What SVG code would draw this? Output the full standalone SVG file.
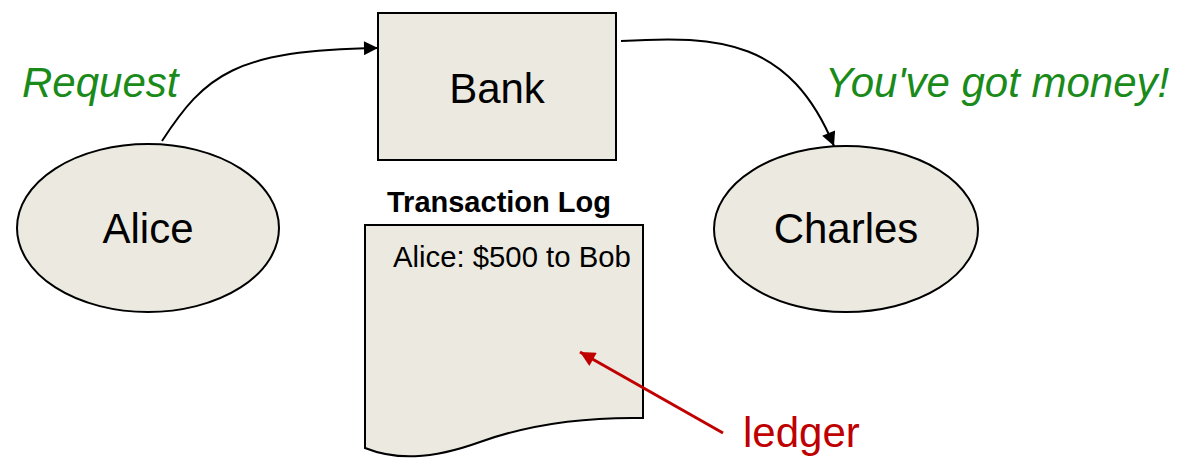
<svg xmlns="http://www.w3.org/2000/svg" width="1188" height="459" viewBox="0 0 1188 459">
<style>
.shape{fill:#eceae0;stroke:#000;stroke-width:2}
.lbl{font-family:"Liberation Sans",Arial,sans-serif;fill:#000}
.green{font-family:"Liberation Sans",Arial,sans-serif;font-style:italic;fill:#1a8a1a;font-size:42px}
.conn{fill:none;stroke:#000;stroke-width:2}
.red{fill:none;stroke:#c00000;stroke-width:3}
</style>
<defs>
<marker id="ah" viewBox="0 0 10 10" refX="10" refY="5" markerWidth="8" markerHeight="7" markerUnits="strokeWidth" orient="auto">
<path d="M0,0 L10,5 L0,10 Z" fill="#000"/>
</marker>
<marker id="ahr" viewBox="0 0 10 10" refX="10" refY="5" markerWidth="6" markerHeight="5" markerUnits="strokeWidth" orient="auto">
<path d="M0,0 L10,5 L0,10 Z" fill="#c00000"/>
</marker>
</defs>
<rect width="1188" height="459" fill="#fff"/>
<g id="alice">
<ellipse class="shape" cx="148" cy="228" rx="131" ry="84"/>
<text class="lbl" x="148" y="243" font-size="42" text-anchor="middle">Alice</text>
</g>
<g id="bank">
<rect class="shape" x="378" y="13" width="238" height="147"/>
<text class="lbl" x="497" y="103" font-size="42" text-anchor="middle">Bank</text>
</g>
<g id="charles">
<ellipse class="shape" cx="846" cy="229" rx="132" ry="83"/>
<text class="lbl" x="846" y="243" font-size="42" text-anchor="middle">Charles</text>
</g>
<g id="transaction-log">
<text class="lbl" x="499" y="212" font-size="29" font-weight="bold" text-anchor="middle">Transaction Log</text>
<path class="shape" d="M365,225 L643,225 L643,418 C585,417 530,424 480,442 C430,460 395,460 365,448 Z"/>
<text class="lbl" x="393" y="267" font-size="29.3">Alice: $500 to Bob</text>
</g>
<g id="labels">
<text class="green" x="22" y="97">Request</text>
<text class="green" x="825" y="97">You've got money!</text>
<text x="743" y="447" font-family="Liberation Sans,Arial,sans-serif" font-size="42" fill="#c00000">ledger</text>
</g>
<g id="connectors">
<path class="conn" d="M162,141 C205,75 235,50 378,48" marker-end="url(#ah)"/>
<path class="conn" d="M621,41 C720,35 790,40 834,146" marker-end="url(#ah)"/>
<path class="red" d="M723,433 L580,352" marker-end="url(#ahr)"/>
</g>
</svg>
